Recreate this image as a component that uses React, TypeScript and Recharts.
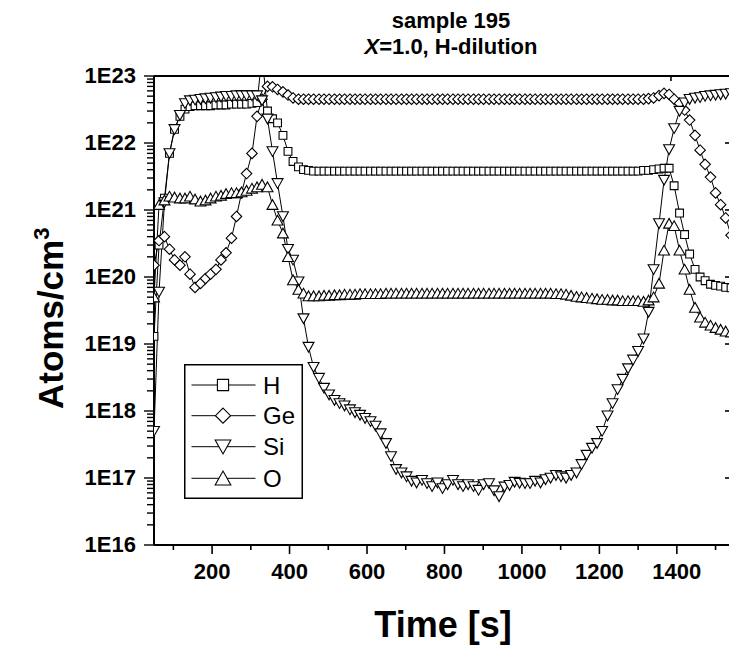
import React from "react";
import { LineChart, Line, XAxis, YAxis, Legend } from "recharts";

const FONT = "'Liberation Sans', Arial, Helvetica, sans-serif";

// sputter time [s]
const times = [
  50, 63, 77, 90, 103, 117, 130, 143, 156, 170,
  183, 196, 210, 223, 236, 250, 263, 276, 289, 303,
  316, 329, 343, 356, 369, 383, 396, 409, 423, 436,
  449, 462, 476, 489, 502, 516, 529, 542, 556, 569,
  582, 595, 609, 622, 635, 649, 662, 675, 689, 702,
  715, 728, 742, 755, 768, 782, 795, 808, 822, 835,
  848, 861, 875, 888, 901, 915, 928, 941, 955, 968,
  981, 994, 1008, 1021, 1034, 1048, 1061, 1074, 1088, 1101,
  1114, 1127, 1141, 1154, 1167, 1181, 1194, 1207, 1221, 1234,
  1247, 1260, 1274, 1287, 1300, 1314, 1327, 1340, 1354, 1367,
  1380, 1393, 1407, 1420, 1433, 1447, 1460, 1473, 1487, 1500,
  1513, 1526, 1540,
];

// concentrations [atoms/cm3]
const hydrogen = [
  1.3e19, 3.0e20, 1.5e21, 7.0e21, 1.6e22, 2.5e22, 3.2e22, 3.5e22, 3.6e22, 3.6e22,
  3.6e22, 3.6e22, 3.7e22, 3.7e22, 3.7e22, 3.8e22, 3.8e22, 3.8e22, 3.8e22, 3.9e22,
  4.0e22, 2.0e23, 3.0e22, 2.3e22, 2.0e22, 1.3e22, 7.5e21, 5.3e21, 4.4e21, 4.0e21,
  3.9e21, 3.8e21, 3.8e21, 3.8e21, 3.8e21, 3.8e21, 3.8e21, 3.8e21, 3.8e21, 3.8e21,
  3.8e21, 3.8e21, 3.8e21, 3.8e21, 3.8e21, 3.8e21, 3.8e21, 3.8e21, 3.8e21, 3.8e21,
  3.8e21, 3.8e21, 3.8e21, 3.8e21, 3.8e21, 3.8e21, 3.8e21, 3.8e21, 3.8e21, 3.8e21,
  3.8e21, 3.8e21, 3.8e21, 3.8e21, 3.8e21, 3.8e21, 3.8e21, 3.8e21, 3.8e21, 3.8e21,
  3.8e21, 3.8e21, 3.8e21, 3.8e21, 3.8e21, 3.8e21, 3.8e21, 3.8e21, 3.8e21, 3.8e21,
  3.8e21, 3.8e21, 3.8e21, 3.8e21, 3.8e21, 3.8e21, 3.8e21, 3.8e21, 3.8e21, 3.8e21,
  3.8e21, 3.8e21, 3.8e21, 3.8e21, 3.8e21, 3.9e21, 3.9e21, 4.0e21, 4.1e21, 4.2e21,
  4.2e21, 2.3e21, 9.0e20, 4.3e20, 2.2e20, 1.3e20, 1.0e20, 8.8e19, 7.8e19, 7.5e19,
  7.3e19, 7.0e19, 6.9e19,
];

const germanium = [
  1.5e20, 3.5e20, 4.0e20, 2.6e20, 1.8e20, 1.5e20, 2.0e20, 1.1e20, 7.0e19, 8.0e19,
  9.5e19, 1.1e20, 1.3e20, 1.8e20, 2.3e20, 3.8e20, 8.0e20, 1.8e21, 3.5e21, 7.0e21,
  2.5e22, 4.5e22, 7.0e22, 6.9e22, 6.3e22, 5.8e22, 5.2e22, 4.7e22, 4.5e22, 4.5e22,
  4.5e22, 4.5e22, 4.5e22, 4.5e22, 4.5e22, 4.5e22, 4.5e22, 4.5e22, 4.5e22, 4.5e22,
  4.5e22, 4.5e22, 4.5e22, 4.5e22, 4.5e22, 4.5e22, 4.5e22, 4.5e22, 4.5e22, 4.5e22,
  4.5e22, 4.5e22, 4.5e22, 4.5e22, 4.5e22, 4.5e22, 4.5e22, 4.5e22, 4.5e22, 4.5e22,
  4.5e22, 4.5e22, 4.5e22, 4.5e22, 4.5e22, 4.5e22, 4.5e22, 4.5e22, 4.5e22, 4.5e22,
  4.5e22, 4.5e22, 4.5e22, 4.5e22, 4.5e22, 4.5e22, 4.5e22, 4.5e22, 4.5e22, 4.5e22,
  4.5e22, 4.5e22, 4.5e22, 4.5e22, 4.5e22, 4.5e22, 4.5e22, 4.5e22, 4.5e22, 4.5e22,
  4.5e22, 4.5e22, 4.5e22, 4.5e22, 4.5e22, 4.5e22, 4.6e22, 4.7e22, 5.1e22, 5.5e22,
  5.3e22, 4.5e22, 3.9e22, 3.1e22, 2.2e22, 1.3e22, 7.8e21, 4.8e21, 3.1e21, 1.8e21,
  1.2e21, 7.6e20, 4.2e20,
];

const silicon = [
  5.0e17, 6.0e19, 1.3e21, 7.0e21, 1.6e22, 2.6e22, 3.9e22, 4.3e22, 4.4e22, 4.5e22,
  4.6e22, 4.7e22, 4.8e22, 4.9e22, 5.0e22, 5.0e22, 5.1e22, 5.1e22, 5.1e22, 5.1e22,
  5.1e22, 4.3e22, 2.3e22, 7.5e21, 2.5e21, 8.0e20, 2.6e20, 1.8e20, 8.5e19, 2.4e19,
  9.0e18, 4.5e18, 3.1e18, 2.2e18, 1.75e18, 1.45e18, 1.3e18, 1.2e18, 1.05e18, 9.5e17,
  8.7e17, 7.8e17, 7.0e17, 6.0e17, 4.6e17, 3.3e17, 2.1e17, 1.35e17, 1.2e17, 1.05e17,
  9.0e16, 8.5e16, 9.3e16, 8.3e16, 7.5e16, 8.5e16, 7.0e16, 8.0e16, 9.3e16, 8.0e16,
  7.5e16, 8.0e16, 7.5e16, 6.6e16, 8.0e16, 8.3e16, 6.5e16, 5.3e16, 7.4e16, 7.8e16,
  8.7e16, 8.4e16, 8.3e16, 8.3e16, 9.0e16, 8.5e16, 9.5e16, 1.0e17, 1.1e17, 1.05e17,
  1.0e17, 1.1e17, 1.2e17, 1.6e17, 2.2e17, 2.8e17, 3.3e17, 5.0e17, 8.5e17, 1.3e18,
  2.1e18, 3.0e18, 4.3e18, 5.8e18, 7.8e18, 1.2e19, 3.0e19, 1.3e20, 6.3e20, 2.8e21,
  8.0e21, 1.65e22, 3.0e22, 4.0e22, 4.5e22, 4.7e22, 4.8e22, 5.0e22, 5.1e22, 5.2e22,
  5.3e22, 5.4e22, 5.5e22,
];

const oxygen = [
  5.0e19, 1.2e21, 1.4e21, 1.6e21, 1.55e21, 1.5e21, 1.5e21, 1.6e21, 1.45e21, 1.35e21,
  1.4e21, 1.5e21, 1.6e21, 1.65e21, 1.75e21, 1.8e21, 1.8e21, 1.85e21, 1.95e21, 2.1e21,
  2.2e21, 2.4e21, 2.2e21, 1.2e21, 7.0e20, 4.5e20, 2.0e20, 9.0e19, 6.5e19, 5.7e19,
  5.2e19, 5.2e19, 5.2e19, 5.3e19, 5.3e19, 5.4e19, 5.4e19, 5.5e19, 5.5e19, 5.5e19,
  5.6e19, 5.6e19, 5.6e19, 5.6e19, 5.6e19, 5.7e19, 5.7e19, 5.7e19, 5.7e19, 5.7e19,
  5.7e19, 5.7e19, 5.7e19, 5.7e19, 5.7e19, 5.7e19, 5.7e19, 5.7e19, 5.7e19, 5.7e19,
  5.7e19, 5.7e19, 5.7e19, 5.7e19, 5.7e19, 5.7e19, 5.7e19, 5.7e19, 5.7e19, 5.7e19,
  5.7e19, 5.7e19, 5.7e19, 5.7e19, 5.7e19, 5.7e19, 5.7e19, 5.7e19, 5.6e19, 5.6e19,
  5.5e19, 5.3e19, 5.1e19, 5.0e19, 4.9e19, 4.8e19, 4.7e19, 4.6e19, 4.6e19, 4.5e19,
  4.5e19, 4.4e19, 4.4e19, 4.4e19, 4.4e19, 4.3e19, 4.5e19, 5.0e19, 8.0e19, 2.5e20,
  6.3e20, 5.8e20, 2.5e20, 1.3e20, 6.5e19, 3.5e19, 2.5e19, 2.1e19, 1.9e19, 1.75e19,
  1.65e19, 1.55e19, 1.5e19,
];

const seriesNames = ["H", "Ge", "Si", "O"];

const xTicks = [100, 200, 300, 400, 500, 600, 700, 800, 900, 1000, 1100, 1200, 1300, 1400, 1500];
const decades = [16, 17, 18, 19, 20, 21, 22];
const mantissas = [1, 2, 3, 4, 5, 6, 7, 8, 9];
const yTicks = [...decades.flatMap((d) => mantissas.map((m) => m * 10 ** d)), 1e23];
const yMajorTicks = [1e16, 1e17, 1e18, 1e19, 1e20, 1e21, 1e22, 1e23];

const rows = times.map((t, i) => ({
  t,
  H: hydrogen[i],
  Ge: germanium[i],
  Si: silicon[i],
  O: oxygen[i],
}));

type Shape = "square" | "diamond" | "down" | "up";
const shapes: Shape[] = ["square", "diamond", "down", "up"];

function markerPath(shape: Shape, cx: number, cy: number, s: number) {
  switch (shape) {
    case "square":
      return `M${cx - s},${cy - s}h${2 * s}v${2 * s}h${-2 * s}Z`;
    case "diamond": {
      const d = s * 1.35;
      return `M${cx},${cy - d}L${cx + d},${cy}L${cx},${cy + d}L${cx - d},${cy}Z`;
    }
    case "down":
      return `M${cx - s * 1.4},${cy - s * 1.2}L${cx + s * 1.4},${cy - s * 1.2}L${cx},${cy + s * 1.3}Z`;
    default:
      return `M${cx - s * 1.4},${cy + s * 1.2}L${cx + s * 1.4},${cy + s * 1.2}L${cx},${cy - s * 1.3}Z`;
  }
}

const makeDot = (shape: Shape) => (p: any) => {
  const key = `${shape}-${p.index}`;
  if (p.cx == null || p.cy == null || !isFinite(p.cy)) return <g key={key} />;
  return <path key={key} d={markerPath(shape, p.cx, p.cy, 3.9)} fill="#fff" stroke="#000" strokeWidth={1.1} />;
};

const isDecade = (v: number) => {
  const e = Math.round(Math.log10(v));
  return Math.abs(v / 10 ** e - 1) < 1e-6;
};

const BottomTick = (p: any) => {
  const v = p.payload.value;
  const major = v % 200 === 0;
  return (
    <g>
      <line x1={p.x} y1={p.y} x2={p.x} y2={p.y + (major ? 9 : 5)} stroke="#000" strokeWidth={1.6} />
      {major && (
        <text x={p.x} y={p.y + 34} textAnchor="middle" fontFamily={FONT} fontWeight="bold" fontSize={22} fill="#000">
          {v}
        </text>
      )}
    </g>
  );
};

const TopTick = (p: any) => {
  const major = p.payload.value % 200 === 0;
  return <line x1={p.x} y1={p.y} x2={p.x} y2={p.y + (major ? 9 : 5)} stroke="#000" strokeWidth={1.6} />;
};

const LeftTick = (p: any) => {
  const v = p.payload.value;
  const major = isDecade(v);
  return (
    <g>
      <line x1={p.x - (major ? 10 : 7)} y1={p.y} x2={p.x} y2={p.y} stroke="#000" strokeWidth={1.4} />
      {major && (
        <text x={p.x - 18} y={p.y + 7} textAnchor="end" fontFamily={FONT} fontWeight="bold" fontSize={22} fill="#000">
          {`1E${Math.round(Math.log10(v))}`}
        </text>
      )}
    </g>
  );
};

const RightTick = (p: any) => (
  <line x1={p.x - 8} y1={p.y} x2={p.x} y2={p.y} stroke="#000" strokeWidth={1.6} />
);

const entryY = [21, 51.7, 82.7, 114.3];

function LegendBox() {
  return (
    <svg width={119} height={135} style={{ display: "block" }}>
      <rect x={0.75} y={0.75} width={117.5} height={133.5} fill="#fff" stroke="#000" strokeWidth={1.5} />
      {seriesNames.map((name, i) => (
        <g key={name}>
          <line x1={7.5} y1={entryY[i]} x2={71.5} y2={entryY[i]} stroke="#000" strokeWidth={1} />
          <path d={markerPath(shapes[i], 39, entryY[i], 5.6)} fill="#fff" stroke="#000" strokeWidth={1.1} />
          <text x={79} y={entryY[i] + 8.5} fontFamily={FONT} fontSize={24} fill="#000">
            {name}
          </text>
        </g>
      ))}
    </svg>
  );
}

export default function App() {
  return (
    <div style={{ position: "absolute", left: 0, top: 0, width: 729, height: 650, overflow: "hidden", background: "#fff" }}>
      <LineChart width={763} height={650} data={rows} margin={{ top: 46, right: 0, bottom: 65, left: 94 }}>
        <XAxis
          dataKey="t"
          type="number"
          domain={[50, 1545]}
          allowDataOverflow
          ticks={xTicks}
          interval={0}
          height={40}
          tickSize={0}
          tickMargin={0}
          tickLine={false}
          axisLine={{ stroke: "#000", strokeWidth: 2 }}
          tick={<BottomTick />}
        />
        <XAxis
          xAxisId="top"
          orientation="top"
          type="number"
          domain={[50, 1545]}
          allowDataOverflow
          ticks={xTicks}
          interval={0}
          height={30}
          tickSize={0}
          tickMargin={0}
          tickLine={false}
          axisLine={{ stroke: "#000", strokeWidth: 2 }}
          tick={<TopTick />}
        />
        <YAxis
          type="number"
          scale="log"
          domain={[1e16, 1e23]}
          allowDataOverflow
          ticks={yTicks}
          interval={0}
          width={60}
          tickSize={0}
          tickMargin={0}
          tickLine={false}
          axisLine={{ stroke: "#000", strokeWidth: 2 }}
          tick={<LeftTick />}
        />
        <YAxis
          yAxisId="right"
          orientation="right"
          type="number"
          scale="log"
          domain={[1e16, 1e23]}
          allowDataOverflow
          ticks={yMajorTicks}
          interval={0}
          width={30}
          tickSize={0}
          tickMargin={0}
          tickLine={false}
          axisLine={{ stroke: "#000", strokeWidth: 2 }}
          tick={<RightTick />}
        />
        {seriesNames.map((name, i) => (
          <Line
            key={name}
            dataKey={name}
            name={name}
            type="linear"
            stroke="#000"
            strokeWidth={1}
            dot={makeDot(shapes[i])}
            activeDot={false}
            isAnimationActive={false}
          />
        ))}
        <Legend
          verticalAlign="middle"
          align="center"
          wrapperStyle={{ position: "absolute", left: 184, top: 364, width: 119, height: 135, margin: 0 }}
          content={() => <LegendBox />}
        />
      </LineChart>
      <svg width={729} height={650} style={{ position: "absolute", left: 0, top: 0, pointerEvents: "none" }}>
        <text x={451} y={28} textAnchor="middle" fontFamily={FONT} fontWeight="bold" fontSize={22} fill="#000">
          sample 195
        </text>
        <text x={451} y={54} textAnchor="middle" fontFamily={FONT} fontWeight="bold" fontSize={22} fill="#000">
          <tspan fontStyle="italic">X</tspan>=1.0, H-dilution
        </text>
        <text x={443} y={637} textAnchor="middle" fontFamily={FONT} fontWeight="bold" fontSize={36} fill="#000">
          Time [s]
        </text>
        <text
          x={63}
          y={409}
          transform="rotate(-90 63 409)"
          fontFamily={FONT}
          fontWeight="bold"
          fontSize={35}
          fill="#000"
        >
          Atoms/cm<tspan fontSize={22} dy={-14}>3</tspan>
        </text>
      </svg>
    </div>
  );
}
